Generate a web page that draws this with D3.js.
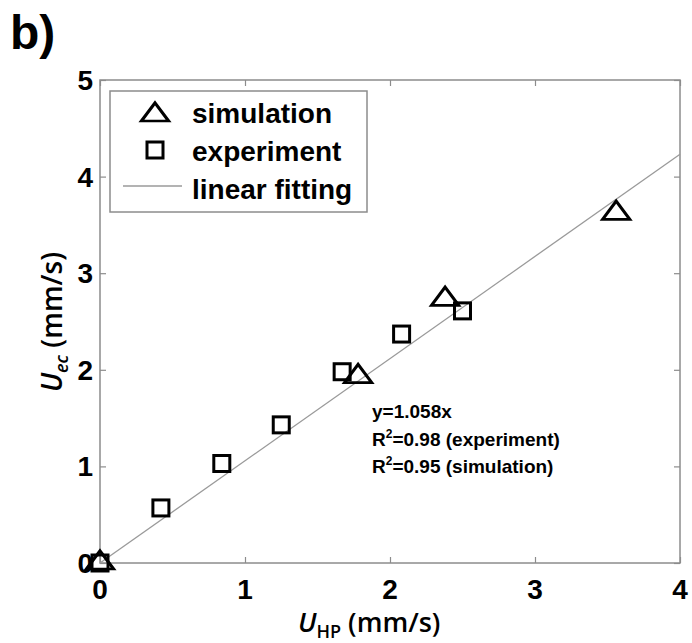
<!DOCTYPE html>
<html>
<head>
<meta charset="utf-8">
<script src="https://cdn.jsdelivr.net/npm/d3@7"></script>
<style>
  body { margin: 0; background: white; }
  text { font-family: "Liberation Sans", Arial, sans-serif; }
  .title { font-family: "Open Sans", "Noto Sans", sans-serif; }
</style>
</head>
<body>
<script>
// simulation (triangles)
const simX = [0, 1.78, 2.38, 3.56];
const simY = [0, 1.93, 2.73, 3.62];
// experiment (squares)
const expX = [0, 0.42, 0.84, 1.25, 1.67, 2.08, 2.5];
const expY = [0, 0.57, 1.03, 1.43, 1.98, 2.37, 2.61];
const slope = 1.058;
const xTicks = [0, 1, 2, 3, 4];
const yTicks = [0, 1, 2, 3, 4, 5];

const w = 692, h = 643;
const padL = 100, padR = 680, padT = 80, padB = 563;

const svg = d3.select('body').append('svg')
  .attr('width', w)
  .attr('height', h)
  .style('background-color', 'white');

const x = d3.scaleLinear().domain([0, 4]).range([padL, padR]);
const y = d3.scaleLinear().domain([0, 5]).range([padB, padT]);

const axisColor = '#8c8c8c';

// box
svg.append('rect')
  .attr('x', padL).attr('y', padT)
  .attr('width', padR - padL).attr('height', padB - padT)
  .attr('fill', 'none').attr('stroke', axisColor).attr('stroke-width', 1.5);

// inner ticks on all sides
const tk = 6;
const bottomAx = svg.append('g').attr('transform', `translate(0,${padB})`)
  .call(d3.axisBottom(x).tickValues(xTicks).tickSizeInner(-tk).tickSizeOuter(0).tickFormat(''));
const topAx = svg.append('g').attr('transform', `translate(0,${padT})`)
  .call(d3.axisTop(x).tickValues(xTicks).tickSizeInner(-tk).tickSizeOuter(0).tickFormat(''));
const leftAx = svg.append('g').attr('transform', `translate(${padL},0)`)
  .call(d3.axisLeft(y).tickValues(yTicks).tickSizeInner(-tk).tickSizeOuter(0).tickFormat(''));
const rightAx = svg.append('g').attr('transform', `translate(${padR},0)`)
  .call(d3.axisRight(y).tickValues(yTicks).tickSizeInner(-tk).tickSizeOuter(0).tickFormat(''));
[bottomAx, topAx, leftAx, rightAx].forEach(a => {
  a.select('.domain').remove();
  a.selectAll('line').attr('stroke', axisColor).attr('stroke-width', 1.2);
});

// tick labels
svg.append('g').selectAll('text')
  .data(xTicks).enter().append('text')
  .attr('x', d => x(d))
  .attr('y', 599)
  .attr('text-anchor', 'middle')
  .style('font-size', '28px').style('font-weight', 'bold')
  .text(d => d);

svg.append('g').selectAll('text')
  .data(yTicks).enter().append('text')
  .attr('x', 93)
  .attr('y', d => y(d) + 10)
  .attr('text-anchor', 'end')
  .style('font-size', '28px').style('font-weight', 'bold')
  .text(d => d);

// axis titles
const xt = svg.append('text')
  .attr('class', 'title')
  .attr('x', 298).attr('y', 632)
  .style('font-size', '27px').style('font-weight', '600');
xt.append('tspan').style('font-style', 'italic').text('U');
xt.append('tspan').attr('dy', 6).style('font-size', '18px').text('HP');
xt.append('tspan').attr('dy', -6).text(' (mm/s)');

const yt = svg.append('text')
  .attr('class', 'title')
  .attr('transform', `translate(62,322) rotate(-90)`)
  .attr('text-anchor', 'middle')
  .style('font-size', '28px').style('font-weight', '600');
yt.append('tspan').style('font-style', 'italic').text('U');
yt.append('tspan').attr('dy', 6).style('font-size', '18px').style('font-style', 'italic').text('ec');
yt.append('tspan').attr('dy', -6).text(' (mm/s)');

// panel label
svg.append('text')
  .attr('x', 10).attr('y', 49)
  .style('font-size', '48px').style('font-weight', 'bold')
  .text('b)');

// fitting line
svg.append('line')
  .attr('x1', x(0)).attr('y1', y(0))
  .attr('x2', x(4)).attr('y2', y(slope * 4))
  .attr('stroke', '#9a9a9a').attr('stroke-width', 1.3);

const tri = d3.symbol().type(d3.symbolTriangle).size(190);
const sq = 16;

svg.append('g').selectAll('rect')
  .data(expX).enter().append('rect')
  .attr('x', (d, i) => x(d) - sq / 2)
  .attr('y', (d, i) => y(expY[i]) - sq / 2)
  .attr('width', sq).attr('height', sq)
  .attr('fill', 'none').attr('stroke', 'black').attr('stroke-width', 3);

svg.append('g').selectAll('path')
  .data(simX).enter().append('path')
  .attr('d', tri)
  .attr('transform', (d, i) => `translate(${x(d)},${y(simY[i])}) scale(1.3,1)`)
  .attr('fill', 'none').attr('stroke', 'black').attr('stroke-width', 2.6);

// legend
const lg = svg.append('g');
lg.append('rect')
  .attr('x', 110).attr('y', 91).attr('width', 257).attr('height', 121)
  .attr('fill', 'white').attr('stroke', axisColor).attr('stroke-width', 1.5);
lg.append('path').attr('d', tri)
  .attr('transform', 'translate(155,115) scale(1.3,1)')
  .attr('fill', 'none').attr('stroke', 'black').attr('stroke-width', 2.6);
lg.append('rect')
  .attr('x', 155 - sq / 2).attr('y', 150 - sq / 2).attr('width', sq).attr('height', sq)
  .attr('fill', 'none').attr('stroke', 'black').attr('stroke-width', 3);
lg.append('line')
  .attr('x1', 123).attr('x2', 182).attr('y1', 186).attr('y2', 186)
  .attr('stroke', '#9a9a9a').attr('stroke-width', 1.3);
const legendLabels = ['simulation', 'experiment', 'linear fitting'];
lg.selectAll('text.lab')
  .data(legendLabels).enter().append('text')
  .attr('class', 'lab')
  .attr('x', 192)
  .attr('y', (d, i) => 123 + i * 38)
  .style('font-size', '28px').style('font-weight', 'bold')
  .text(d => d);

// annotation
const ann = svg.append('g').style('font-size', '19px').style('font-weight', 'bold');
ann.append('text').attr('x', 372).attr('y', 418).text('y=' + slope + 'x');
const r1 = ann.append('text').attr('x', 372).attr('y', 446);
r1.append('tspan').text('R');
r1.append('tspan').attr('dy', -8).style('font-size', '12px').text('2');
r1.append('tspan').attr('dy', 8).text('=0.98 (experiment)');
const r2 = ann.append('text').attr('x', 372).attr('y', 473);
r2.append('tspan').text('R');
r2.append('tspan').attr('dy', -8).style('font-size', '12px').text('2');
r2.append('tspan').attr('dy', 8).text('=0.95 (simulation)');
</script>
</body>
</html>
